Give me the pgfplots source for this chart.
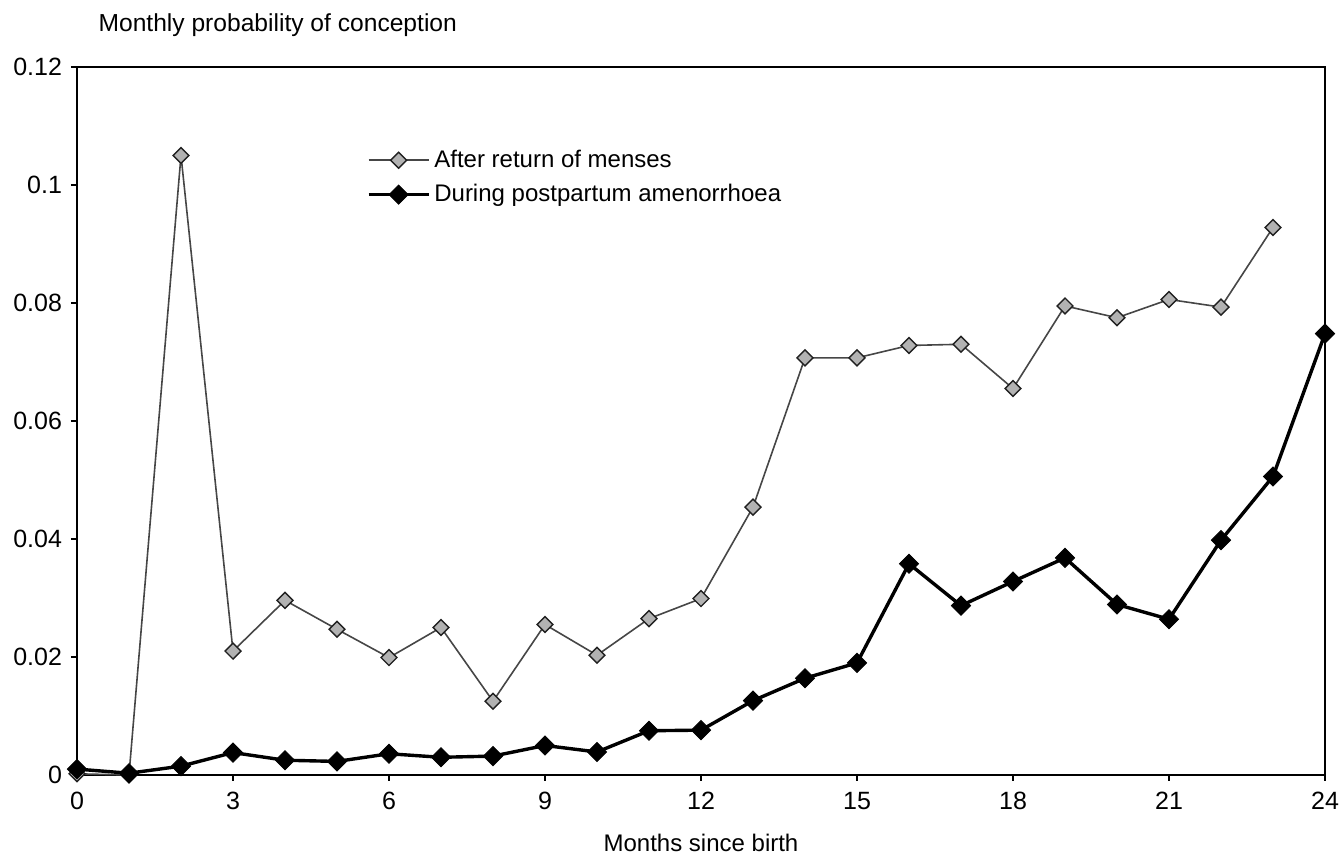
\documentclass[border=0pt]{standalone}
\usepackage{fontspec}
\setmainfont{Liberation Sans}
\usepackage{pgfplots}
\pgfplotsset{compat=1.18}
\pgfplotstableread{
x y
0 0.0002
1 0.0000
2 0.1050
3 0.0210
4 0.0296
5 0.0247
6 0.0199
7 0.0250
8 0.0125
9 0.0255
10 0.0203
11 0.0265
12 0.0299
13 0.0454
14 0.0707
15 0.0707
16 0.0728
17 0.0730
18 0.0655
19 0.0795
20 0.0775
21 0.0806
22 0.0793
23 0.0928
}\menses
\pgfplotstableread{
x y
0 0.0010
1 0.0003
2 0.0015
3 0.0038
4 0.0025
5 0.0023
6 0.0036
7 0.0030
8 0.0032
9 0.0050
10 0.0039
11 0.0075
12 0.0076
13 0.0126
14 0.0164
15 0.0190
16 0.0358
17 0.0287
18 0.0328
19 0.0368
20 0.0289
21 0.0264
22 0.0398
23 0.0506
24 0.0748
}\amen
\begin{document}
\begin{tikzpicture}
\begin{axis}[
  name=ax,
  scale only axis, width=624pt, height=354pt,
  xmin=0, xmax=24, ymin=0, ymax=0.12,
  xtick={0,3,6,9,12,15,18,21,24},
  xticklabels={0,3,6,9,12,15,18,21,24},
  ytick={0,0.02,0.04,0.06,0.08,0.1,0.12},
  yticklabels={0,0.02,0.04,0.06,0.08,0.1,0.12},
  tick align=outside, tick pos=left, major tick length=3pt,
  axis line style={line width=0.6pt},
  every tick/.style={black, line width=0.6pt},
  tick label style={font=\fontsize{12.5}{15}\selectfont},
  xticklabel style={yshift=-2pt},
  yticklabel style={xshift=-1pt},
  xlabel={Months since birth},
  xlabel style={font=\fontsize{12}{14}\selectfont, at={(axis description cs:0.5,-0.096)}, anchor=center},
  clip=false,
  legend cell align=left,
  legend style={draw=none, fill=none, inner sep=0pt, at={(rel axis cs:0.232,0.844)}, anchor=west,
    font=\fontsize{12}{14}\selectfont, row sep=3pt, nodes={inner sep=2pt}},
  legend image code/.code={\draw[mark repeat=2, mark phase=2, #1] plot coordinates {(0pt,0pt) (15pt,0pt) (30pt,0pt)};},
]
\addplot[color=gray!55!black, line width=0.8pt, mark=square*, mark size=2.8pt,
  mark options={rotate=45, fill=gray!60, draw=gray!25!black, line width=0.7pt}] table[x=x,y=y] {\menses};
\addlegendentry{After return of menses}
\addplot[color=black, line width=1.7pt, mark=square*, mark size=3.4pt,
  mark options={rotate=45, fill=black, draw=black, line width=0.4pt}] table[x=x,y=y] {\amen};
\addlegendentry{During postpartum amenorrhoea}
\node[anchor=west, font=\fontsize{12.3}{14}\selectfont, inner sep=0pt] at (rel axis cs:0.017,1.059) {Monthly probability of conception};
\end{axis}
\pgfresetboundingbox
\path (ax.south west) ++(-38.5pt,-42.5pt) rectangle ++(671.5pt,430pt);
\end{tikzpicture}
\end{document}
